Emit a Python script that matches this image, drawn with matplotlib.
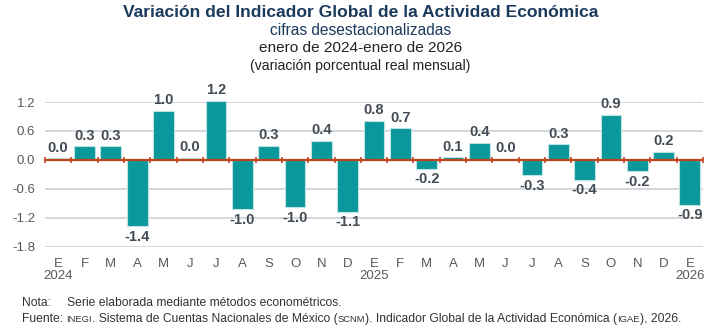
import matplotlib.pyplot as plt
import numpy as np

plt.rcParams['font.family'] = ['Liberation Sans', 'DejaVu Sans']

# monthly variation, Jan 2024 - Jan 2026
months = ['E', 'F', 'M', 'A', 'M', 'J', 'J', 'A', 'S', 'O', 'N', 'D',
          'E', 'F', 'M', 'A', 'M', 'J', 'J', 'A', 'S', 'O', 'N', 'D', 'E']
years = {0: '2024', 12: '2025', 24: '2026'}
values = [0.03, 0.28, 0.28, -1.38, 1.02, 0.04, 1.23, -1.02, 0.29, -0.98, 0.40, -1.08,
          0.81, 0.66, -0.18, 0.06, 0.36, 0.02, -0.32, 0.32, -0.41, 0.94, -0.24, 0.17, -0.93]
yticks = [-1.8, -1.2, -0.6, 0.0, 0.6, 1.2]

teal = '#0A989C'
red = '#C2441F'
gray = '#595959'
navy = '#1B3A5C'
lblcol = '#434B55'

fig = plt.figure(figsize=(7.28, 3.31), dpi=100)
ax = fig.add_axes([0.0618, 0.2547, 0.9039, 0.4371])

x = np.arange(len(values))
ax.bar(x, values, width=0.79, color=teal, edgecolor='#BFE3E3', linewidth=0.8,
       zorder=3, clip_on=False)

ax.set_xlim(-0.5, len(values) - 0.5)
ax.set_ylim(-1.8, 1.2)
ax.set_yticks(yticks)
ax.set_yticklabels(['%.1f' % t for t in yticks])
ax.yaxis.grid(True, color='#CDD1D4', linewidth=1.2, zorder=0)
ax.set_axisbelow(True)
for s in ax.spines.values():
    s.set_visible(False)
ax.tick_params(axis='both', length=0, labelsize=9.5, colors=gray)
ax.tick_params(axis='y', pad=7)
ax.tick_params(axis='x', pad=8)

labels = []
for i, m in enumerate(months):
    labels.append(m + ('\n' + years[i] if i in years else ''))
ax.set_xticks(x)
ax.set_xticklabels(labels, linespacing=1.0, va='top')

# zero line with category ticks
ax.axhline(0, color=red, linewidth=1.6, zorder=4)
bounds = np.arange(len(values) + 1) - 0.5
ax.vlines(bounds, -0.07, 0.07, color=red, linewidth=1.2, zorder=4, clip_on=False)

# value labels
for xi, v in zip(x, values):
    if v >= 0:
        ax.annotate('%.1f' % v, (xi, v), xytext=(0, 2.5), textcoords='offset points',
                    ha='center', va='bottom', fontsize=10.5, fontweight='bold',
                    color=lblcol, annotation_clip=False)
    else:
        ax.annotate('%.1f' % v, (xi, v), xytext=(0, -2.5), textcoords='offset points',
                    ha='center', va='top', fontsize=10.5, fontweight='bold',
                    color=lblcol, annotation_clip=False)

# titles
fig.text(0.495, 0.963, 'Variación del Indicador Global de la Actividad Económica',
         ha='center', va='center', fontsize=12.6, fontweight='bold', color=navy)
fig.text(0.495, 0.909, 'cifras desestacionalizadas', ha='center', va='center',
         fontsize=11.2, color=navy)
fig.text(0.495, 0.855, 'enero de 2024-enero de 2026', ha='center', va='center',
         fontsize=11.1, color='#222222')
fig.text(0.495, 0.800, '(variación porcentual real mensual)', ha='center', va='center',
         fontsize=10.1, color='#222222')

# notes
fs = 8.75
fig.text(0.030, 0.075, 'Nota:', ha='left', va='baseline', fontsize=fs, color='#333333')
fig.text(0.092, 0.075, 'Serie elaborada mediante métodos econométricos.', ha='left',
         va='baseline', fontsize=fs, color='#333333')

parts = [('INEGI', fs - 2), ('. Sistema de Cuentas Nacionales de México (', fs),
         ('SCNM', fs - 2), ('). Indicador Global de la Actividad Económica (', fs),
         ('IGAE', fs - 2), ('), 2026.', fs)]
first = fig.text(0.030, 0.027, 'Fuente: ', ha='left', va='baseline', fontsize=fs,
                 color='#333333')
pieces = [fig.text(0, 0.027, txt, fontsize=size, color='#333333', ha='left',
                   va='baseline') for txt, size in parts]
# place the pieces one after another
fig.canvas.draw()
r = fig.canvas.get_renderer()
xpos = first.get_window_extent(r).x1
for t in pieces:
    t.set_position((xpos / fig.bbox.width, 0.027))
    xpos += t.get_window_extent(r).width

fig.savefig('out.png', dpi=100)
